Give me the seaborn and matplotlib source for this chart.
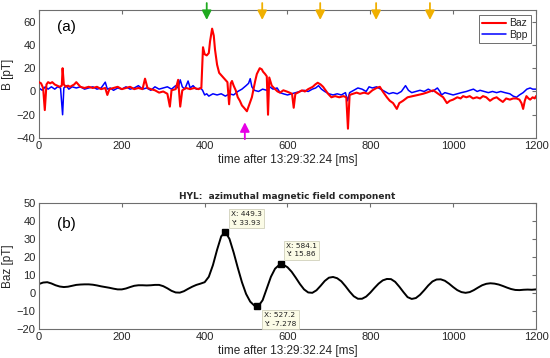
import matplotlib
matplotlib.use("Agg")
import matplotlib.pyplot as plt
import seaborn as sns
import pandas as pd

# ---------------- data: panel (a) ----------------
baz_t = [0, 5, 10, 14, 18, 22, 27, 32, 38, 44, 50, 55, 57, 60, 65, 70, 75, 80, 85, 90, 95,
         100, 110, 120, 130, 140, 150, 160, 165, 170, 180, 190, 200, 210, 220, 230, 240, 250,
         256, 262, 270, 280, 290, 300, 310, 316, 320, 330, 336, 341, 346, 355, 365, 375, 385,
         392, 396, 400, 405, 410, 413, 418, 422, 425, 430, 435, 440, 445, 450, 455, 459, 463,
         466, 470, 475, 480, 485, 490, 495, 502, 505, 510, 514, 518, 522, 526, 533, 538, 541,
         546, 550, 553, 556, 562, 570, 576, 582, 590, 598, 605, 611, 615, 619, 625, 635, 642,
         650, 661, 667, 673, 680, 686, 692, 698, 706, 715, 725, 735, 742, 746, 750, 758, 767,
         775, 785, 795, 805, 815, 823, 830, 840, 847, 855, 864, 870, 879, 890, 903, 915, 927,
         936, 944, 952, 960, 968, 976, 985, 992, 1000, 1010, 1018, 1024, 1032, 1040, 1048,
         1057, 1065, 1072, 1080, 1089, 1097, 1105, 1112, 1120, 1128, 1137, 1145, 1153, 1160,
         1165, 1169, 1173, 1177, 1182, 1186, 1192, 1197, 1200]
baz_v = [8, 7, 3, -16, 6, 8, 7, 8, 6, 5, 4, 5, 20, 6, 4, 5, 4, 5, 6, 8, 6,
         4, 3, 4, 3, 4, 2, 3, -3, 2, 3, 4, 2, 3, 4, 2, 3, 2,
         11, 3, 2, 1, -1, 0, -2, -13, 1, 2, 10, -13, 1, 3, 2, 3, 2,
         3, 38, 32, 31, 33, 43, 54, 48, 36, 23, 16, 14, 12, 10, 8, -11, 7,
         9, 5, 1, -5, -8, -12, -14, -17, -14, -9, -5, 2, 9, 15, 20, 19, 17,
         15, 13, -20, 12, 5, 2, 0, -1, 1, 0, -1, -2, -14, -2, -1, 1, 0,
         2, 4, 6, 7.5, 6, 4, 1, -2, -5, -4, -5, -4, -5, -32, -3, -2, -1,
         -2, -1, -2, 1, 3, 4, 0, -5, -8, -10, -15, -10, -8, -5, -4, -3, -2,
         -1, 0, 1, -1, -3, -5, -10, -8, -7, -5, -6, -4, -5, -4, -6,
         -5, -6, -4, -5, -8, -6, -5, -7, -9, -6, -7, -6, -6, -7,
         -10, -15, -8, -4, -6, -7, -5, -6, -4]

bpp_t = [0, 8, 15, 22, 30, 38, 45, 52, 57, 60, 66, 72, 80, 90, 100, 110, 120, 130, 140, 150,
         160, 165, 172, 180, 190, 200, 210, 220, 230, 240, 250, 260, 270, 280, 290, 300, 310,
         320, 330, 336, 341, 346, 352, 360, 365, 372, 380, 390, 395, 400, 405, 410, 420, 430,
         440, 450, 460, 470, 480, 490, 500, 506, 510, 514, 520, 530, 540, 550, 557, 565, 575,
         582, 590, 600, 610, 620, 630, 640, 650, 660, 668, 675, 682, 690, 700, 710, 720, 730,
         740, 745, 750, 760, 770, 780, 790, 797, 805, 815, 825, 835, 845, 855, 865, 875, 885,
         892, 900, 910, 920, 930, 940, 950, 962, 968, 972, 980, 990, 1000, 1010, 1020, 1032,
         1040, 1049, 1058, 1065, 1075, 1085, 1095, 1105, 1115, 1125, 1137, 1145, 1153, 1160,
         1169, 1178, 1186, 1192, 1200]
bpp_v = [3, 1, 4, 2, 4, 2, 4, 3, -20, 3, 5, 2, 4, 3, 4, 2, 3, 4, 2, 3,
         8, 2, 3, 1, 3, 2, 4, 2, 3, 5, 2, 3, 1, 4, 2, 3, 4,
         2, 5, 3, 10, 4, 2, 9, 3, 5, 2, 3, 1, -3, -2, -4, -2, -3,
         -2, -4, -2, -3, 0, 2, 5, 7, 11, 4, 1, 0, 2, 1, 4, 2, 3,
         -1, -2, -3, -2, -1, 0, 1, 0, 2, 3, 5, 2, 0, -2, -3, -2, -3,
         -1, -8, -1, 1, 3, 2, 0, 4, 3, 4, 2, 0, -2, -1, -2, 0, 5,
         1, -1, 0, 1, 0, 2, 0, 3, 0, -3, -1, -2, -3, -2, -1, 0,
         1, 2, 0, 1, 0, -1, 0, -1, 0, -1, -2, -4, -5, -3,
         -1, 2, 3, 2, 2]

arrow_green = [405]
arrow_orange = [539, 679, 814, 944]
arrow_magenta = [497]

# ---------------- data: panel (b) ----------------
filt_t = list(range(0, 1201, 10))
filt_v = [5.0, 5.8, 6.0, 5.3, 4.3, 3.6, 3.3, 3.5, 4.0, 4.5,
          4.7, 4.8, 4.8, 4.6, 4.2, 3.7, 3.3, 2.9, 2.4, 2.0,
          2.0, 2.5, 3.3, 4.0, 4.3, 4.3, 4.2, 4.3, 4.5, 4.5,
          3.8, 2.6, 1.2, 0.3, 0.2, 1.0, 2.3, 3.5, 4.5, 5.2,
          6.0, 9.0, 15.5, 24.0, 31.5, 33.9, 30.0, 22.5, 14.0, 6.0,
          -0.5, -4.8, -7.0, -7.2, -4.0, 2.5, 9.0, 13.5, 15.6, 15.7,
          14.3, 11.8, 8.5, 5.0, 2.0, 0.3, 0.1, 1.5, 4.0, 6.7,
          8.5, 8.9, 8.2, 6.5, 3.8, 0.8, -1.8, -3.2, -3.2, -2.0,
          0.2, 2.8, 5.2, 7.0, 7.8, 7.7, 6.2, 3.5, 0.5, -2.3,
          -3.3, -2.8, -1.0, 1.5, 4.2, 6.4, 7.5, 7.6, 6.8, 5.2,
          3.3, 1.6, 0.5, 0.1, 0.5, 1.6, 3.0, 4.3, 5.1, 5.4,
          5.2, 4.7, 3.9, 3.0, 2.2, 1.7, 1.6, 1.8, 1.9, 1.8, 2.0]
tip_x = [449.3, 527.2, 584.1]
tip_y = [33.93, -7.278, 15.86]

# ---------------- styling ----------------
sns.set_style("white")
plt.rcParams['font.family'] = ['Liberation Sans', 'DejaVu Sans']
edge = "#6e6e6e"
txtc = "#262626"

fig = plt.figure(figsize=(5.5, 3.58), dpi=100)
ax1 = fig.add_axes([0.0709, 0.6145, 0.9036, 0.3575])
ax2 = fig.add_axes([0.0709, 0.081, 0.9036, 0.352])

for ax in (ax1, ax2):
    ax.tick_params(direction="in", length=3, width=0.8, colors=edge, labelcolor=txtc,
                   labelsize=8, top=True, right=True, pad=2.5)
    for s in ax.spines.values():
        s.set_color(edge)
        s.set_linewidth(0.8)
    ax.set_xlim(0, 1200)
    ax.set_xticks([0, 200, 400, 600, 800, 1000, 1200])
    ax.set_xlabel("time after 13:29:32.24 [ms]", fontsize=8.5, color=txtc, labelpad=2)

# panel (a)
df_a = pd.DataFrame({"t": baz_t, "v": baz_v})
df_b = pd.DataFrame({"t": bpp_t, "v": bpp_v})
sns.lineplot(data=df_a, x="t", y="v", ax=ax1, color="#ff0000", lw=1.5, label="Baz", zorder=3)
sns.lineplot(data=df_b, x="t", y="v", ax=ax1, color="#0000ff", lw=1.1, label="Bpp", zorder=2)
ax1.set_ylim(-40, 70)
ax1.set_yticks([-40, -20, 0, 20, 40, 60])
ax1.set_ylabel("B [pT]", fontsize=8.5, color=txtc, labelpad=2)
ax1.text(0.037, 0.84, "(a)", transform=ax1.transAxes, fontsize=11, color="black")
leg = ax1.legend(loc="upper right", fontsize=7.5, frameon=True, fancybox=False,
                 borderpad=0.3, handlelength=2.3, labelspacing=0.15, borderaxespad=0.5,
                 handletextpad=0.3)
leg.get_frame().set_edgecolor(edge)
leg.get_frame().set_linewidth(0.7)
leg.get_frame().set_alpha(1)

def arrow(ax, x, y0, y1, color):
    ax.annotate("", xy=(x, y1), xytext=(x, y0), annotation_clip=False,
                arrowprops=dict(arrowstyle="-|>,head_length=0.55,head_width=0.28",
                                color=color, lw=1.3, shrinkA=0, shrinkB=0), zorder=5)

for x in arrow_green:
    arrow(ax1, x, 76, 61.5, "#1faa1f")
for x in arrow_orange:
    arrow(ax1, x, 76, 61.5, "#f0b000")
for x in arrow_magenta:
    arrow(ax1, x, -41, -26.5, "#e600e6")

# panel (b)
df_f = pd.DataFrame({"t": filt_t, "v": filt_v})
sns.lineplot(data=df_f, x="t", y="v", ax=ax2, color="black", lw=1.4)
ax2.plot(tip_x, tip_y, "s", color="black", ms=4, zorder=4)
ax2.set_ylim(-20, 50)
ax2.set_yticks([-20, -10, 0, 10, 20, 30, 40, 50])
ax2.set_ylabel("Baz [pT]", fontsize=8.5, color=txtc, labelpad=2)
ax2.text(0.037, 0.80, "(b)", transform=ax2.transAxes, fontsize=11, color="black")
ax2.set_title("HYL:  azimuthal magnetic field component", fontsize=6.5,
              fontweight="bold", pad=3, family=['DejaVu Sans'])

offsets = [(6, 6, "bottom"), (7, -6, "top"), (5, 7, "bottom")]
for x, y, (dx, dy, va) in zip(tip_x, tip_y, offsets):
    ax2.annotate(f"X: {x}\nY: {y}", xy=(x, y), xytext=(dx, dy), textcoords="offset pixels",
                 fontsize=5.3, color="#202020", linespacing=1.5, va=va, ha="left",
                 family=['DejaVu Sans'],
                 bbox=dict(boxstyle="square,pad=0.3", fc="#fbfbe6", ec="#d0d0bc", lw=0.6),
                 annotation_clip=False, zorder=6)

fig.savefig("out.png", dpi=100)
